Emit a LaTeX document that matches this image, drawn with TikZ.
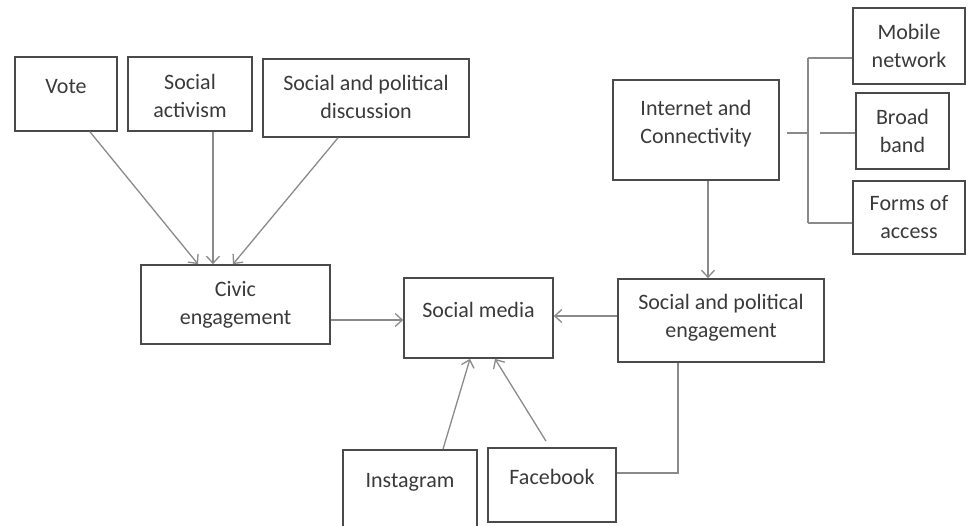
\documentclass[tikz,border=0pt]{standalone}
\usepackage{fontspec}
\setmainfont{Carlito}
\usetikzlibrary{arrows.meta,calc}
\definecolor{boxc}{HTML}{4A4A4A}
\definecolor{linec}{HTML}{8A8A8A}
\definecolor{txtc}{HTML}{3A3A3A}
\tikzset{
  box/.style={draw=boxc, line width=1.7pt, rectangle, inner sep=0pt},
  lbl/.style={align=center, text=txtc, font=\fontsize{22}{28}\selectfont, inner sep=0pt},
  conn/.style={draw=linec, line width=1.3pt},
  arr/.style={conn, -{Straight Barb[length=7pt,width=13pt,line width=1.3pt]}}
}
\begin{document}
\begin{tikzpicture}[x=1pt,y=-1pt]
\useasboundingbox (0,0) rectangle (967,526);
% top-left boxes
\node[box, minimum width=102pt, minimum height=74pt, label={[lbl,yshift=7pt]center:Vote}] (vote) at (66,94) {};
\node[box, minimum width=124pt, minimum height=74pt, label={[lbl,yshift=-2pt]center:Social\\activism}] (act) at (190,94) {};
\node[box, minimum width=206pt, minimum height=78pt, label={[lbl,yshift=1pt]center:Social and political\\discussion}] (spd) at (366,98) {};
% middle row
\node[box, minimum width=189pt, minimum height=79pt, label={[lbl]center:Civic\\engagement}] (civic) at (235.5,304.5) {};
\node[box, minimum width=149pt, minimum height=80pt, label={[lbl,yshift=8pt]center:Social media}] (sm) at (478.5,318) {};
\node[box, minimum width=206pt, minimum height=83pt, label={[lbl,yshift=3pt]center:Social and political\\engagement}] (spe) at (721,320.5) {};
% right side
\node[box, minimum width=166pt, minimum height=100pt, label={[lbl,yshift=6pt]center:Internet and\\Connectivity}] (inet) at (696,130) {};
\node[box, minimum width=112pt, minimum height=76pt, label={[lbl]center:Mobile\\network}] (mob) at (909,46) {};
\node[box, minimum width=93pt, minimum height=76pt, label={[lbl]center:Broad\\band}] (broad) at (902.5,131) {};
\node[box, minimum width=112pt, minimum height=73pt, label={[lbl]center:Forms of\\access}] (forms) at (909,217.5) {};
% bottom
\node[box, minimum width=134pt, minimum height=82pt, label={[lbl,yshift=9pt]center:Instagram}] (insta) at (410,491) {};
\node[box, minimum width=128pt, minimum height=74pt, label={[lbl,yshift=8pt]center:Facebook}] (fb) at (552,485) {};
% bracket coordinates
\coordinate (bt) at (808,58);
\coordinate (bm) at (808,133);
\coordinate (bb) at (808,223);
\coordinate (bs) at (787,133);
\coordinate (br) at (820,133);
% connectors into civic engagement
\draw[arr] ([xshift=24pt]vote.south) -- ([xshift=-37.5pt]civic.north);
\draw[arr] ([xshift=23pt]act.south) -- ([xshift=-22.5pt]civic.north);
\draw[arr] ([xshift=-28pt]spd.south) -- ([xshift=-2.5pt]civic.north);
% into social media
\draw[arr] ([yshift=-15.5pt]civic.east) -- ([yshift=-15.5pt]civic.east -| sm.west);
\draw[arr] ([yshift=4.5pt]spe.west) -- ([yshift=4.5pt]spe.west -| sm.east);
\draw[arr] ([xshift=33pt]insta.north) -- ([xshift=-8.5pt]sm.south);
\draw[arr] ([xshift=-6pt,yshift=6pt]fb.north) -- ([xshift=16.5pt]sm.south);
% internet to engagement
\draw[arr] ([xshift=12pt]inet.south) -- ([xshift=12pt]inet.south |- spe.north);
% facebook to engagement
\draw[conn] ([yshift=12pt]fb.east) -| ([xshift=-43pt]spe.south);
% bracket
\draw[conn] (bs) -- (bm);
\draw[conn] (bt) -- (bb);
\draw[conn] (bt) -- (bt -| mob.west);
\draw[conn] (bb) -- (bb -| forms.west);
\draw[conn] (br) -- (br -| broad.west);
\end{tikzpicture}
\end{document}
